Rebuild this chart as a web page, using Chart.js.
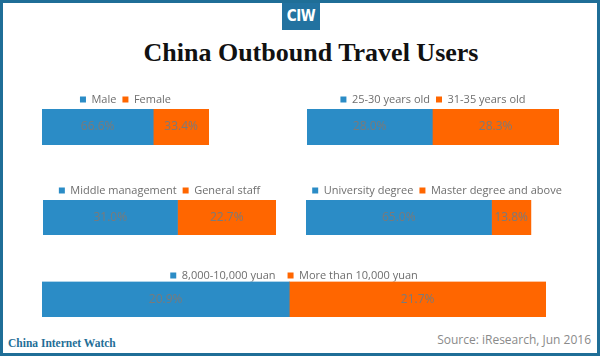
<!DOCTYPE html>
<html><head><meta charset="utf-8">
<script src="https://cdn.jsdelivr.net/npm/chart.js@4"></script>
<style>
html,body{margin:0;padding:0;background:#fff;}
#frame{position:relative;width:600px;height:356px;box-sizing:border-box;border:3px solid #1f6e97;overflow:hidden;background:#fff;}
#logo{position:absolute;left:279px;top:0;width:38px;height:27px;background:#2272a0;color:#fff;font:bold 15px "Liberation Sans Narrow","DejaVu Sans Condensed",sans-serif;text-align:center;line-height:27px;letter-spacing:-0.5px;}
#title{position:absolute;left:11px;top:35px;width:594px;text-align:center;font:bold 26px "Liberation Serif","DejaVu Serif",serif;color:#111;}
.c{position:absolute;}
#ciw{position:absolute;left:5px;top:334px;font:bold 11.5px "Liberation Serif","DejaVu Serif",serif;color:#1f6e97;}
#src{position:absolute;right:6px;top:328px;font:12px "Open Sans",sans-serif;color:#8a8a8a;}
</style></head>
<body>
<div id="frame">
<div id="logo">CIW</div>
<div id="title">China Outbound Travel Users</div>
<div class="c" style="left:39px;top:85px;width:167px;height:57px"><canvas id="c1"></canvas></div>
<div class="c" style="left:304px;top:85px;width:252px;height:57px"><canvas id="c2"></canvas></div>
<div class="c" style="left:40px;top:176px;width:233px;height:56px"><canvas id="c3"></canvas></div>
<div class="c" style="left:303px;top:176px;width:262px;height:56px"><canvas id="c4"></canvas></div>
<div class="c" style="left:39px;top:255px;width:504px;height:59px"><canvas id="c5"></canvas></div>
<div id="ciw">China Internet Watch</div>
<div id="src">Source: iResearch, Jun 2016</div>
</div>
<script>
// Data
const genderLabels = ["Male", "Female"];
const genderValues = [66.6, 33.4];
const ageLabels = ["25-30 years old", "31-35 years old"];
const ageValues = [28.0, 28.3];
const jobLabels = ["Middle management", "General staff"];
const jobValues = [31.0, 22.7];
const eduLabels = ["University degree", "Master degree and above"];
const eduValues = [65.0, 13.8];
const incomeLabels = ["8,000-10,000 yuan", "More than 10,000 yuan"];
const incomeValues = [20.9, 21.7];

const colors = ["#2b8cc6", "#ff6600"];

const valueLabels = {
  id: "valueLabels",
  afterDatasetsDraw(chart) {
    const ctx = chart.ctx;
    ctx.save();
    ctx.font = '12px "Open Sans", sans-serif';
    ctx.fillStyle = "#7a7a7a";
    ctx.textAlign = "center";
    ctx.textBaseline = "middle";
    chart.data.datasets.forEach((ds, i) => {
      const meta = chart.getDatasetMeta(i);
      meta.data.forEach((bar, j) => {
        const v = ds.data[j];
        const cx = (bar.x + bar.base) / 2;
        ctx.fillText(v.toFixed(1) + "%", cx, bar.y);
      });
    });
    ctx.restore();
  }
};

const tightLegend = {
  id: "tightLegend",
  beforeInit(chart) {
    const lg = chart.legend;
    const orig = lg.fit;
    lg.fit = function () { orig.call(this); this.height -= 6; };
  }
};

function make(id, labels, values, opts) {
  opts = opts || {};
  const total = values.reduce((a, b) => a + b, 0);
  new Chart(document.getElementById(id), {
    type: "bar",
    data: {
      labels: [""],
      datasets: labels.map((l, i) => ({
        label: l,
        data: [values[i]],
        backgroundColor: colors[i],
        borderWidth: 0,
        barPercentage: 1,
        categoryPercentage: 1
      }))
    },
    options: {
      indexAxis: "y",
      responsive: true,
      maintainAspectRatio: false,
      animation: false,
      layout: { padding: 0 },
      scales: {
        x: { stacked: true, min: 0, max: opts.max || total, display: false },
        y: { stacked: true, display: false }
      },
      plugins: {
        tooltip: { enabled: false },
        legend: {
          position: "top",
          labels: {
            boxWidth: 6,
            boxHeight: 6,
            padding: opts.pad || 6,
            color: "#6e6e6e",
            font: { family: "Open Sans", size: 11 }
          }
        }
      }
    },
    plugins: [valueLabels, tightLegend]
  });
}

make("c1", genderLabels, genderValues);
make("c2", ageLabels, ageValues);
make("c3", jobLabels, jobValues);
make("c4", eduLabels, eduValues, { max: 91.8 });
make("c5", incomeLabels, incomeValues, { pad: 12 });
</script>
</body></html>
